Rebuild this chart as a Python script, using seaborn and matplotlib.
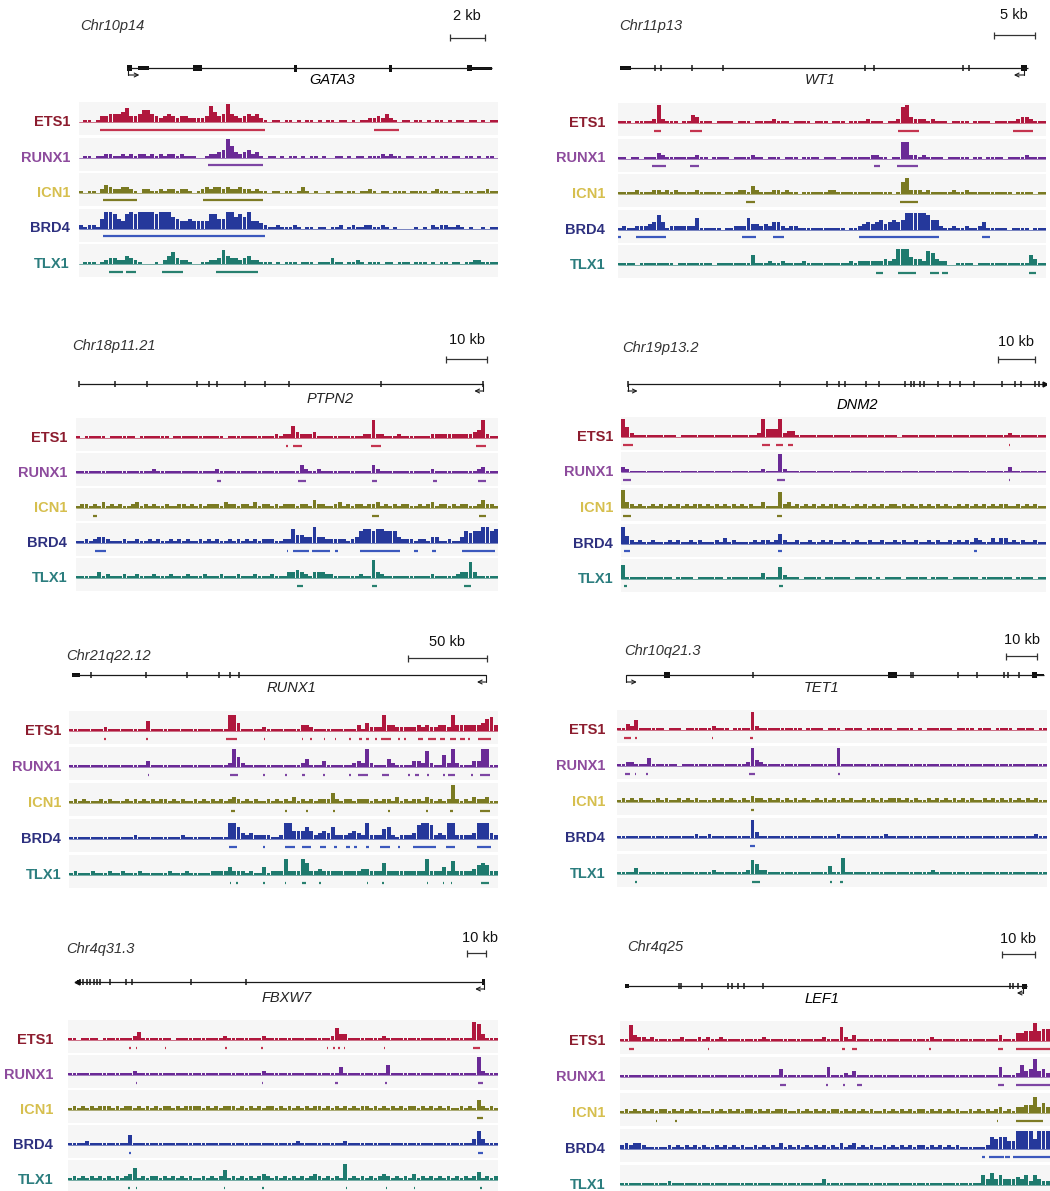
import numpy as np
import matplotlib
matplotlib.use("Agg")
import matplotlib.pyplot as plt
from matplotlib.patches import Rectangle
import seaborn as sns

FIG_W, FIG_H = 1050, 1191

TRACKS = ["ETS1", "RUNX1", "ICN1", "BRD4", "TLX1"]
LABEL_COLORS = ["#8c1c2e", "#8d4b9d", "#d6bf4e", "#2d307f", "#2b7d7e"]
FILL_COLORS = ["#b0173d", "#6a2a96", "#7a7a22", "#25389b", "#1e7a6e"]
PEAK_COLORS = ["#c4344f", "#7d45a3", "#7d7a24", "#3b58bd", "#28806f"]
STRIP_BG = "#f6f6f6"

# ---- signal levels per bin (0-9) ----
GATA3_SIGNAL = {
    "ETS1": "0110133444" "5733466432" "3432332222" "3853494323" "4342101101" "1010110101" "1011010112" "2324210110" "1101011010" "1101101011",
    "RUNX1": "0110112211" "2121221212" "1221211100" "1223496323" "4231011010" "1101011010" "0110101101" "1121211011" "0110101101" "1011010110",
    "ICN1": "1011024322" "3321022112" "1221221012" "3233232232" "2121101101" "1013101001" "0110110112" "1011011101" "1110121101" "1011011211",
    "BRD4": "2122158875" "4787888878" "8865445444" "4775588676" "8443211211" "1210110110" "1120121122" "1121010000" "1010212211" "2101001011",
    "TLX1": "0111012332" "2432100010" "2463221001" "1223743323" "4221110101" "1101110111" "3110112101" "1101101110" "1110101101" "1011221111",
}
WT1_SIGNAL = {
    "ETS1": "1110111129" "2111011431" "1101111011" "1011112111" "0111101110" "1110111121" "1101128932" "2212111011" "1101111011" "1112332111",
    "RUNX1": "1101101113" "2111111121" "1011110111" "1211011101" "1101111011" "1011111112" "2110118822" "1211110111" "1101101111" "0111121111",
    "ICN1": "1111211122" "1212111121" "1111011122" "1421112212" "1101111112" "2111111111" "1111016822" "2121111121" "1211111111" "1101111011",
    "BRD4": "1211222347" "4122222261" "1111011222" "6332324421" "2211111111" "1110112343" "4534545888" "8875521121" "1211241111" "1011110111",
    "TLX1": "1111011111" "1110111111" "1101111111" "1511121121" "1112111111" "1111212222" "2232388843" "3276322001" "1110111111" "1111115311",
}
PTPN2_SIGNAL = {
    "ETS1": "1011111011" "1111011111" "1101111111" "1111101111" "1111111212" "2632223111" "1111111122" "9221112111" "1111222222" "2222349211",
    "RUNX1": "1111111111" "1111111121" "1111111111" "1112111111" "1111111111" "1114211211" "1111111111" "4211111111" "1111211111" "1111123111",
    "ICN1": "1221213121" "2112312121" "1211221212" "1222132212" "2131221212" "2212214221" "1231212212" "2312121221" "1212312212" "1221124221",
    "BRD4": "1121233211" "1211211212" "1121212112" "1212112121" "2121222112" "2744338332" "2222123677" "6776663222" "1221331121" "1365668867",
    "TLX1": "1111131211" "1211211121" "1121112111" "2111211121" "1121112111" "3343213332" "2111111211" "9321111111" "1111211111" "2338311111",
}
DNM2_SIGNAL = {
    "ETS1": "9521111111" "1110111111" "1111111111" "1129444923" "3111111111" "1111111111" "1111101111" "1111111111" "1111111111" "1211111111",
    "RUNX1": "3211111111" "1111111111" "1111111111" "1112111921" "1111111111" "1111111111" "1111111111" "1111111111" "1111111111" "1311111111",
    "ICN1": "9321211212" "1212121221" "2121212121" "2113111823" "1212121212" "2121121212" "1212212121" "2121212112" "1212121212" "2112121211",
    "BRD4": "8421211211" "1212112121" "1121312111" "1212212521" "1211211212" "1121121121" "1211212112" "1121211212" "1213211313" "3121211211",
    "TLX1": "7111111111" "1101111011" "1111011111" "1113111621" "1101111011" "1111011110" "1011110111" "1101111011" "1111011111" "1101111011",
}
RUNX1_SIGNAL = {
    "ETS1": "1111111121" "1111111151" "1111111111" "1111111884" "1111121111" "1111332111" "1111111314" "2228332222" "2323223328" "3333334673",
    "RUNX1": "1111111111" "1111111131" "1111111111" "1111111295" "2111111111" "1111241113" "1111112329" "2111421111" "3328211629" "2111339911",
    "ICN1": "1212111212" "1112121212" "1221212112" "1212121232" "1212112121" "2131212122" "2521221222" "1212213121" "2213212129" "2121322311",
    "BRD4": "1111111111" "1111121111" "1111112111" "1111111886" "3232222112" "8844464234" "3622234328" "2225621222" "3788723288" "2222388832",
    "TLX1": "1211121112" "1121112111" "1112111211" "1112222422" "2121141222" "8222862232" "2222222233" "2226222222" "2228222427" "2222356522",
}
TET1_SIGNAL = {
    "ETS1": "1132511111" "1011101111" "1121110111" "1921111111" "1110111101" "1101111011" "1111011110" "1011111101" "1110111011" "1101111011",
    "RUNX1": "1122111411" "1111011111" "1111111111" "2932111111" "1111111111" "1911111111" "1111111111" "1111111111" "1111111111" "1111111111",
    "ICN1": "1212121112" "1211212121" "1121212112" "1322121212" "1212112121" "2121211212" "1212221212" "1121212121" "2121121212" "1212121211",
    "BRD4": "1111111111" "1111111121" "1211111111" "1931111111" "1111111111" "1211111111" "1121111111" "1111111111" "1111111111" "1111111211",
    "TLX1": "1111311111" "1111111111" "1121111111" "2752211111" "1111111114" "1181111111" "1111111111" "1112111111" "1111111111" "1111111111",
}
FBXW7_SIGNAL = {
    "ETS1": "1101111011" "1111124111" "1111011111" "1111112111" "1111121111" "1111111111" "1263311111" "1112111111" "1111111111" "1111983111",
    "RUNX1": "1111111111" "1111121111" "1111111111" "1111111111" "1111121111" "1111111111" "1114111111" "1111511111" "1111111111" "1111192111",
    "ICN1": "1212121222" "1212212121" "2122121222" "2121212221" "2121212212" "1212121221" "2121212122" "1212121212" "2121212121" "1212152121",
    "BRD4": "1111211111" "1111511111" "1111111111" "1111111111" "1111111111" "1112111111" "1111211111" "1111111111" "1111111111" "1111373111",
    "TLX1": "1212121212" "1212361212" "2121212121" "1212125121" "2121232121" "2121212321" "2121812121" "2123212121" "3121212121" "2121241212",
}
LEF1_SIGNAL = {
    "ETS1": "1183221211" "1111211121" "2112111111" "1112111111" "1111111211" "1721311111" "1111111111" "1121111111" "1111111131" "1144559566",
    "RUNX1": "1111111111" "1111111111" "1111111111" "1111111411" "1111111151" "1121311111" "1111111111" "1111111111" "1111111151" "1126349342",
    "ICN1": "1212121212" "2121212121" "1212121212" "2121212221" "1212121212" "2121212121" "1212121212" "2121212121" "1212121231" "2133448353",
    "BRD4": "2323321111" "1212121212" "1121212121" "1212121312" "1212121212" "1312312121" "1212121212" "2121212121" "1111126566" "4499995999",
    "TLX1": "1111111111" "1211111111" "1111111111" "1111111111" "1111111311" "1111111111" "1111111111" "1111111111" "1111536353" "3343525322",
}

# ---- called peaks (start, end) in % of the shown region ----
GATA3_PEAKS = {
    "ETS1": [(5.0, 44.4), (70.3, 76.4)],
    "RUNX1": [(30.7, 44.0)],
    "ICN1": [(5.7, 13.9), (29.7, 44.0)],
    "BRD4": [(5.7, 44.3)],
    "TLX1": [(7.2, 10.6), (11.1, 13.6), (19.9, 24.8), (32.7, 42.7)],
}
WT1_PEAKS = {
    "ETS1": [(8.4, 10.1), (16.9, 19.7), (65.5, 70.4), (92.4, 96.9)],
    "RUNX1": [(8.0, 11.1), (16.8, 18.9), (59.7, 61.2), (65.1, 70.0)],
    "ICN1": [(30.0, 32.0), (65.9, 70.2)],
    "BRD4": [(0.0, 0.8), (4.3, 11.1), (28.9, 32.2), (36.3, 38.8), (56.2, 75.1), (85.0, 86.8)],
    "TLX1": [(60.2, 62.0), (65.5, 69.7), (72.9, 74.9), (75.8, 77.2), (96.1, 97.7)],
}
PTPN2_PEAKS = {
    "ETS1": [(49.8, 50.1), (51.5, 53.5), (69.9, 72.3), (94.9, 97.2)],
    "RUNX1": [(33.4, 34.4), (52.6, 54.5), (70.1, 71.3), (84.7, 85.5), (95.3, 97.2)],
    "ICN1": [(4.1, 4.9), (70.1, 71.7), (95.4, 97.2)],
    "BRD4": [(4.5, 7.1), (50.0, 50.2), (51.5, 55.1), (55.9, 60.2), (61.4, 62.0), (67.4, 76.8),
             (80.2, 81.0), (84.3, 85.4), (91.5, 99.2)],
    "TLX1": [(52.3, 53.8), (70.1, 71.3), (91.9, 93.7)],
}
DNM2_PEAKS = {
    "ETS1": [(0.5, 2.9), (33.1, 35.1), (36.4, 38.2), (39.4, 40.4), (91.2, 91.6)],
    "RUNX1": [(0.5, 2.4), (36.8, 38.5), (91.2, 91.5)],
    "ICN1": [(0.5, 2.4), (36.8, 37.8)],
    "BRD4": [(0.7, 2.0), (37.0, 37.8), (83.0, 83.8)],
    "TLX1": [(0.7, 1.3), (37.2, 38.2)],
}
RUNX1_PEAKS = {
    "ETS1": [(8.2, 8.7), (18.0, 18.4), (36.7, 39.2), (45.4, 45.6), (54.2, 54.4), (56.2, 56.4),
             (59.4, 59.6), (61.9, 62.1), (65.3, 65.6), (67.6, 68.4), (69.3, 69.9), (71.4, 71.9),
             (72.8, 75.1), (76.7, 77.2), (78.2, 78.6), (81.4, 82.5), (83.7, 85.6), (86.4, 87.6),
             (88.7, 90.1), (91.2, 92.2), (93.0, 93.5), (95.3, 98.4)],
    "RUNX1": [(18.3, 18.6), (37.5, 39.4), (45.2, 45.6), (50.3, 50.7), (54.2, 54.9), (59.2, 59.6),
              (65.3, 65.6), (67.4, 69.7), (73.0, 74.7), (79.0, 79.4), (80.6, 81.7), (83.5, 83.7),
              (87.2, 87.6), (88.3, 89.9), (93.8, 94.2), (95.7, 98.1)],
    "ICN1": [(37.7, 38.8), (50.3, 50.7), (55.3, 55.7), (61.5, 61.9), (74.4, 74.7), (83.3, 83.7),
             (88.9, 89.4), (95.7, 98.1)],
    "BRD4": [(37.3, 39.2), (45.2, 45.8), (50.3, 52.6), (54.2, 56.3), (58.6, 59.8), (61.7, 62.5),
             (64.6, 65.4), (66.4, 67.1), (69.2, 69.9), (72.4, 74.9), (76.7, 77.1), (80.2, 85.6),
             (87.8, 89.9), (95.0, 98.4)],
    "TLX1": [(37.5, 37.8), (39.0, 39.3), (45.3, 45.6), (50.3, 50.6), (54.2, 55.2), (58.3, 58.6),
             (69.4, 69.7), (73.0, 73.3), (83.4, 83.7), (87.1, 87.4), (89.0, 89.3), (96.0, 98.0)],
}
TET1_PEAKS = {
    "ETS1": [(1.6, 3.2), (4.1, 4.6), (22.0, 22.2), (30.9, 31.7)],
    "RUNX1": [(1.8, 3.0), (4.1, 4.5), (6.8, 7.3), (30.7, 32.1), (51.5, 51.9)],
    "ICN1": [(31.1, 31.8)],
    "BRD4": [(30.9, 32.1)],
    "TLX1": [(4.3, 4.7), (31.3, 33.2), (49.5, 49.9), (51.9, 52.6)],
}
FBXW7_PEAKS = {
    "ETS1": [(14.2, 14.4), (15.8, 16.1), (22.5, 22.7), (36.6, 36.9), (44.9, 45.3), (60.2, 60.4),
             (61.7, 62.1), (62.9, 63.1), (64.1, 64.3), (73.4, 73.6), (94.3, 95.7)],
    "RUNX1": [(15.8, 16.1), (45.0, 45.4), (62.0, 62.7), (73.8, 74.1), (95.3, 96.4)],
    "ICN1": [(95.1, 96.4)],
    "BRD4": [(14.2, 14.4), (95.3, 96.4)],
    "TLX1": [(14.0, 14.3), (15.8, 16.1), (36.2, 36.5), (45.2, 45.5), (64.6, 64.9), (73.9, 74.2),
             (80.4, 80.7), (95.9, 96.2)],
}
LEF1_PEAKS = {
    "ETS1": [(2.2, 3.3), (20.4, 20.6), (51.7, 52.3), (53.9, 55.0), (71.9, 72.2), (88.0, 89.1), (92.2, 100.0)],
    "RUNX1": [(37.2, 38.5), (48.0, 48.3), (51.8, 52.3), (55.0, 56.2), (88.0, 89.2), (92.2, 100.0)],
    "ICN1": [(8.3, 8.6), (12.9, 13.2), (87.6, 88.0), (92.2, 98.4)],
    "BRD4": [(84.3, 84.9), (85.8, 89.2), (89.6, 90.7), (91.5, 100.0)],
    "TLX1": [(47.7, 48.5), (86.0, 88.0), (91.5, 93.4), (95.0, 96.5)],
}

# ---- gene models (positions in % of region): line span, exon ticks, exon boxes, TSS arrow, scale bar ----
GATA3_GENE = dict(span=(11.4, 98.6), ticks=[],
                  boxes=[(11.4, 12.6, 3.0), (14.2, 16.7, 1.8), (27.1, 29.3, 2.6), (51.2, 52.0, 3.5),
                         (74.1, 74.7, 3.5), (92.6, 93.8, 2.6), (93.8, 98.6, 1.5)],
                  tss=(11.8, 14.4), scale=(88.5, 97.0), end=None)
WT1_GENE = dict(span=(0.4, 95.9), ticks=[8.7, 10.1, 17.3, 24.6, 57.7, 59.9, 80.7, 81.9],
                boxes=[(0.4, 3.1, 1.8), (94.2, 95.6, 3.0)],
                tss=(94.9, 92.5), scale=(87.8, 97.5), end=None)
PTPN2_GENE = dict(span=(0.8, 96.4), ticks=[0.8, 9.2, 16.8, 28.6, 31.4, 33.4, 40.1, 44.8, 50.5, 72.3, 96.4],
                  boxes=[], tss=(96.4, 94.4), scale=(87.7, 97.4), end=None)
DNM2_GENE = dict(span=(1.6, 99.8),
                 ticks=[1.6, 37.4, 48.4, 51.3, 52.6, 57.6, 60.8, 66.9, 68.2, 69.0, 70.4, 71.2, 74.5,
                        77.5, 79.8, 83.0, 89.6, 92.8, 94.2, 97.5, 98.3],
                 boxes=[], tss=(1.6, 3.9), scale=(88.7, 97.3), end=">")
RUNX1_GENE = dict(span=(0.8, 97.1), ticks=[5.2, 18.0, 27.4, 35.0, 37.5, 39.6],
                  boxes=[(0.8, 2.6, 1.8)], tss=(97.1, 95.1), scale=(79.0, 97.4), end=None)
TET1_GENE = dict(span=(2.2, 99.2), ticks=[31.7, 68.4, 68.9, 79.4, 83.7, 89.9, 90.9, 93.4],
                 boxes=[(10.9, 12.3, 3.0), (63.1, 65.1, 3.0), (96.5, 97.7, 3.0), (97.7, 99.2, 1.2)],
                 tss=(2.2, 4.6), scale=(90.5, 97.7), end=None)
FBXW7_GENE = dict(span=(2.1, 96.8),
                  ticks=[2.7, 3.5, 4.4, 5.2, 6.0, 6.8, 7.4, 9.7, 13.4, 14.8, 28.7, 41.5],
                  boxes=[(2.1, 2.7, 2.0), (96.3, 97.0, 3.0)], tss=(96.8, 94.7), scale=(92.8, 97.3), end="<")
LEF1_GENE = dict(span=(1.2, 94.6), ticks=[13.7, 14.2, 19.1, 25.0, 26.0, 27.5, 28.8, 33.3, 90.7, 91.5, 92.5],
                 boxes=[(1.2, 2.1, 1.8), (93.4, 94.6, 2.5)], tss=(93.8, 92.3), scale=(88.9, 96.5), end=None)

PANELS = [
    ("Chr10p14", "GATA3", "2 kb", GATA3_SIGNAL, GATA3_PEAKS, GATA3_GENE),
    ("Chr11p13", "WT1", "5 kb", WT1_SIGNAL, WT1_PEAKS, WT1_GENE),
    ("Chr18p11.21", "PTPN2", "10 kb", PTPN2_SIGNAL, PTPN2_PEAKS, PTPN2_GENE),
    ("Chr19p13.2", "DNM2", "10 kb", DNM2_SIGNAL, DNM2_PEAKS, DNM2_GENE),
    ("Chr21q22.12", "RUNX1", "50 kb", RUNX1_SIGNAL, RUNX1_PEAKS, RUNX1_GENE),
    ("Chr10q21.3", "TET1", "10 kb", TET1_SIGNAL, TET1_PEAKS, TET1_GENE),
    ("Chr4q31.3", "FBXW7", "10 kb", FBXW7_SIGNAL, FBXW7_PEAKS, FBXW7_GENE),
    ("Chr4q25", "LEF1", "10 kb", LEF1_SIGNAL, LEF1_PEAKS, LEF1_GENE),
]

# ---- page layout in pixels ----
LAYOUT = [
    dict(x0=79, x1=498, top=102, pitch=35.5, label_x=70, chrom_x=0.2, chrom_y=26, name_x=60.4, name_y=80,
         gene_y=68, scale_y=38, scale_lx=92.6, scale_ly=16, dark=True),
    dict(x0=618, x1=1046, top=103, pitch=35.5, label_x=605, chrom_x=0.2, chrom_y=26, name_x=47.2, name_y=80,
         gene_y=68, scale_y=35, scale_lx=92.6, scale_ly=15, dark=False),
    dict(x0=76, x1=498, top=418, pitch=35, label_x=67, chrom_x=-1.0, chrom_y=346, name_x=60.2, name_y=399,
         gene_y=384, scale_y=359, scale_lx=92.6, scale_ly=340, dark=False),
    dict(x0=621, x1=1046, top=417, pitch=35.5, label_x=613, chrom_x=0.2, chrom_y=348, name_x=55.7, name_y=405,
         gene_y=384, scale_y=359, scale_lx=92.9, scale_ly=342, dark=True),
    dict(x0=69, x1=498, top=711, pitch=36, label_x=61, chrom_x=-0.6, chrom_y=656, name_x=51.8, name_y=688,
         gene_y=675, scale_y=658, scale_lx=88.2, scale_ly=642, dark=False),
    dict(x0=617, x1=1047, top=710, pitch=36, label_x=605, chrom_x=1.6, chrom_y=651, name_x=47.6, name_y=688,
         gene_y=675, scale_y=656, scale_lx=94.1, scale_ly=640, dark=False),
    dict(x0=68, x1=498, top=1020, pitch=35, label_x=53, chrom_x=-0.4, chrom_y=949, name_x=50.9, name_y=998,
         gene_y=982, scale_y=953, scale_lx=95.9, scale_ly=938, dark=False),
    dict(x0=620, x1=1050, top=1021, pitch=36, label_x=605, chrom_x=1.6, chrom_y=947, name_x=46.9, name_y=999,
         gene_y=986, scale_y=954, scale_lx=92.5, scale_ly=939, dark=True),
]

STRIP_H = 33
BASE_OFF = 20
PEAK_PX = 18.5
BAR_FRAC = 0.9


def setup_style():
    sns.set_theme(style="white")
    plt.rcParams["font.family"] = ["Liberation Sans", "DejaVu Sans"]


def px_axes(fig, x0, x1, top, bottom):
    return fig.add_axes([x0 / FIG_W, 1 - bottom / FIG_H, (x1 - x0) / FIG_W, (bottom - top) / FIG_H])


def draw_track(ax, levels, peaks, fill, peak_color):
    # browser-style display scale: low levels stay thin, tall peaks reach the strip top
    values = (np.array([int(c) for c in levels]) / 9.0) ** 1.1 * PEAK_PX
    n = len(values)
    centers = (np.arange(n) + 0.5) * 100.0 / n
    ax.bar(centers, values, width=BAR_FRAC * 100.0 / n, color=fill, linewidth=0)
    ax.axhline(0, color=fill, lw=0.6, alpha=0.7)
    for a, b in peaks:
        ax.hlines(-7.5, a, max(b, a + 0.35), color=peak_color, lw=1.6)
    ax.set_xlim(0, 100)
    ax.set_ylim(-(STRIP_H - BASE_OFF), BASE_OFF)
    ax.set_facecolor(STRIP_BG)
    ax.set_xticks([])
    ax.set_yticks([])
    sns.despine(ax=ax, left=True, bottom=True)


def draw_header(ax, chrom, gene, scale_text, model, lay):
    gy = lay["gene_y"]
    s0, s1 = model["span"]
    ax.plot([s0, s1], [gy, gy], color="#1a1a1a", lw=0.9, solid_capstyle="butt")
    if model["ticks"]:
        ax.vlines(model["ticks"], gy - 3.2, gy + 3.2, color="#1a1a1a", lw=1.1)
    for a, b, hh in model["boxes"]:
        ax.add_patch(Rectangle((a, gy - hh), b - a, 2 * hh, color="#111111", lw=0))
    if model["end"] == ">":
        ax.plot([s1], [gy], marker=">", ms=3.5, color="#111111")
    elif model["end"] == "<":
        ax.plot([s0], [gy], marker="<", ms=3.5, color="#111111")
    t0, t1 = model["tss"]
    ax.plot([t0, t0], [gy, gy + 7], color="#1a1a1a", lw=0.8)
    ax.annotate("", xy=(t1, gy + 7), xytext=(t0, gy + 7),
                arrowprops=dict(arrowstyle="->", lw=0.8, color="#1a1a1a",
                                shrinkA=0, shrinkB=0, mutation_scale=7))
    ax.text(lay["name_x"], lay["name_y"], gene, style="italic", fontsize=10.5, ha="center", va="center",
            color="#000000" if lay["dark"] else "#222222")
    ax.text(lay["chrom_x"], lay["chrom_y"], chrom, style="italic", fontsize=10.5, ha="left",
            va="center", color="#333333")
    a, b = model["scale"]
    sy = lay["scale_y"]
    ax.plot([a, b], [sy, sy], color="#333333", lw=0.9)
    ax.vlines([a, b], sy - 3.5, sy + 3.5, color="#333333", lw=0.9)
    ax.text(lay["scale_lx"], lay["scale_ly"], scale_text, fontsize=10.5, ha="center", va="center",
            color="#111111")


def main():
    setup_style()
    fig = plt.figure(figsize=(FIG_W / 100, FIG_H / 100), dpi=100)
    fig.patch.set_facecolor("white")

    for (chrom, gene, scale_text, signal, peaks, model), lay in zip(PANELS, LAYOUT):
        head_top = min(lay["chrom_y"], lay["scale_ly"]) - 14
        hax = px_axes(fig, lay["x0"], lay["x1"], head_top, lay["top"] - 2)
        hax.set_xlim(0, 100)
        hax.set_ylim(lay["top"] - 2, head_top)
        hax.axis("off")
        draw_header(hax, chrom, gene, scale_text, model, lay)

        for i, track in enumerate(TRACKS):
            top = lay["top"] + i * lay["pitch"]
            ax = px_axes(fig, lay["x0"], lay["x1"], top, top + STRIP_H)
            draw_track(ax, signal[track], peaks[track], FILL_COLORS[i], PEAK_COLORS[i])
            base_y = top + BASE_OFF
            fig.text(lay["label_x"] / FIG_W, 1 - base_y / FIG_H, track, ha="right", va="center",
                     fontsize=10.5, fontweight="bold", color=LABEL_COLORS[i])

    fig.savefig("out.png", dpi=100)
    plt.close(fig)


if __name__ == "__main__":
    main()
